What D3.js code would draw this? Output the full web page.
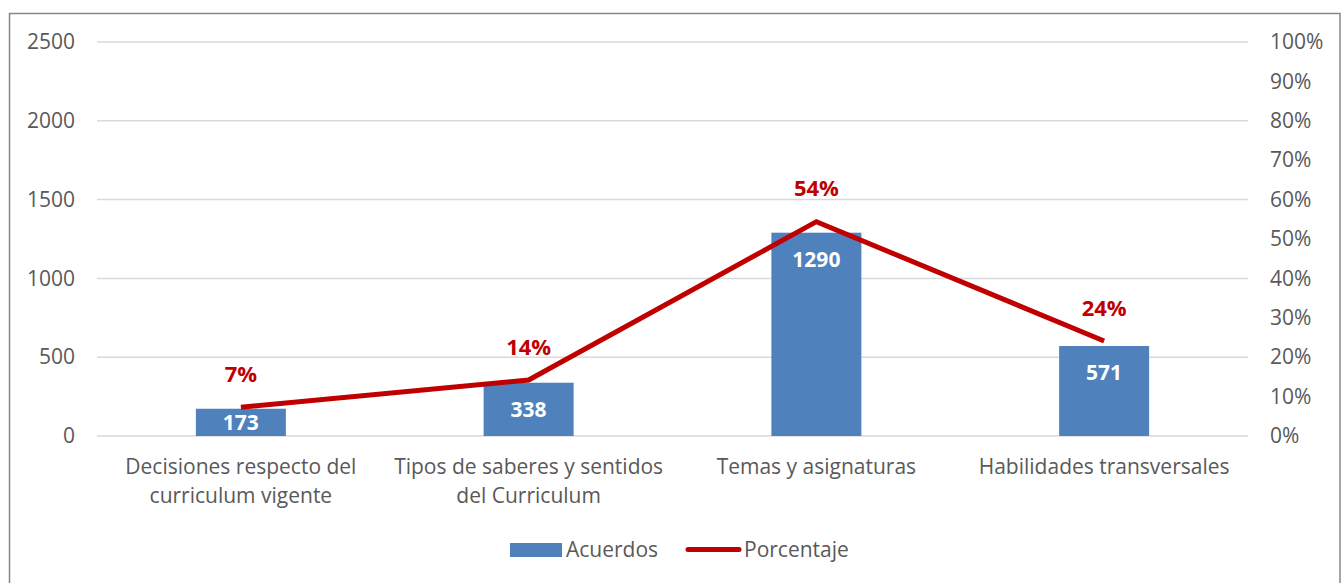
<!DOCTYPE html>
<html><head><meta charset="utf-8">
<script src="https://cdn.jsdelivr.net/npm/d3@7"></script>
<style>body{margin:0;background:#fff}svg{display:block}text{font-family:"Open Sans",sans-serif}</style>
</head><body><svg id="c" width="1342" height="583"></svg>
<script>
const categories = [["Decisiones respecto del","curriculum vigente"],["Tipos de saberes y sentidos","del Curriculum"],["Temas y asignaturas"],["Habilidades transversales"]];
const acuerdos = [173, 338, 1290, 571];
const porcentaje = [0.073, 0.142, 0.544, 0.241];
const pctLabels = ["7%","14%","54%","24%"];
const leftTicks = [0,500,1000,1500,2000,2500];
const rightTicks = [0,0.1,0.2,0.3,0.4,0.5,0.6,0.7,0.8,0.9,1.0];
const seriesNames = ["Acuerdos","Porcentaje"];

const svg = d3.select("#c");
const textCol = "#595959", barCol = "#4F81BD", lineCol = "#C00000";
const fs = "21px";
svg.append("rect").attr("x",9.5).attr("y",13.5).attr("width",1330.5).attr("height",600).attr("fill","#fff").attr("stroke","#878787").attr("stroke-width",1.5);

const L=97, R=1248, T=42, B=436;
const x = d3.scaleBand().domain(d3.range(categories.length)).range([L,R]);
const y = d3.scaleLinear().domain([0,2500]).range([B,T]);
const y2 = d3.scaleLinear().domain([0,1]).range([B,T]);

// gridlines
svg.append("g").selectAll("line").data(leftTicks).join("line")
  .attr("x1",L).attr("x2",R).attr("y1",d=>y(d)).attr("y2",d=>y(d))
  .attr("stroke","#D9D9D9").attr("stroke-width",1.5);

// left axis
const ga = svg.append("g").attr("transform",`translate(${L},0)`)
  .call(d3.axisLeft(y).tickValues(leftTicks).tickSize(0).tickPadding(22).tickFormat(d3.format("d")));
ga.select(".domain").remove();
ga.selectAll("text").attr("fill",textCol).style("font-size",fs).style("font-family","'Open Sans',sans-serif");

// right axis
const gr = svg.append("g").attr("transform",`translate(${R},0)`)
  .call(d3.axisRight(y2).tickValues(rightTicks).tickSize(0).tickPadding(22).tickFormat(d3.format(".0%")));
gr.select(".domain").remove();
gr.selectAll("text").attr("fill",textCol).style("font-size",fs).style("font-family","'Open Sans',sans-serif");

// bars
const bw = 90;
svg.append("g").selectAll("rect").data(acuerdos).join("rect")
  .attr("x",(d,i)=>x(i)+x.bandwidth()/2-bw/2).attr("width",bw)
  .attr("y",d=>y(d)).attr("height",d=>y(0)-y(d)).attr("fill",barCol);

// bar labels
svg.append("g").selectAll("text").data(acuerdos).join("text")
  .attr("x",(d,i)=>x(i)+x.bandwidth()/2)
  .attr("y",d=>Math.min(y(d)+27,(y(d)+y(0))/2))
  .attr("dy","0.35em").attr("text-anchor","middle")
  .attr("fill","#fff").attr("font-weight","bold").style("font-size",fs).text(d=>d);

// line
const line = d3.line().x((d,i)=>x(i)+x.bandwidth()/2).y(d=>y2(d));
svg.append("path").datum(porcentaje).attr("d",line).attr("fill","none")
  .attr("stroke",lineCol).attr("stroke-width",5).attr("stroke-linejoin","miter");

// pct labels
svg.append("g").selectAll("text").data(porcentaje).join("text")
  .attr("x",(d,i)=>x(i)+x.bandwidth()/2).attr("y",d=>y2(d)-33)
  .attr("dy","0.35em").attr("text-anchor","middle")
  .attr("fill",lineCol).attr("font-weight","bold").style("font-size","22px").text((d,i)=>pctLabels[i]);

// category labels
const cg = svg.append("g");
categories.forEach((lines,i)=>{
  const t = cg.append("text").attr("x",x(i)+x.bandwidth()/2).attr("y",474)
    .attr("text-anchor","middle").attr("fill",textCol).style("font-size",fs);
  lines.forEach((s,j)=>t.append("tspan").attr("x",x(i)+x.bandwidth()/2).attr("dy",j?29:0).text(s));
});

// legend
const lg = svg.append("g");
lg.append("rect").attr("x",510).attr("y",543).attr("width",52).attr("height",14).attr("fill",barCol);
lg.append("text").attr("x",566).attr("y",550).attr("dy","0.35em").attr("fill",textCol).style("font-size",fs).text(seriesNames[0]);
lg.append("line").attr("x1",688).attr("x2",739).attr("y1",549.5).attr("y2",549.5).attr("stroke",lineCol).attr("stroke-width",5).attr("stroke-linecap","round");
lg.append("text").attr("x",744).attr("y",550).attr("dy","0.35em").attr("fill",textCol).style("font-size",fs).text(seriesNames[1]);
</script></body></html>
